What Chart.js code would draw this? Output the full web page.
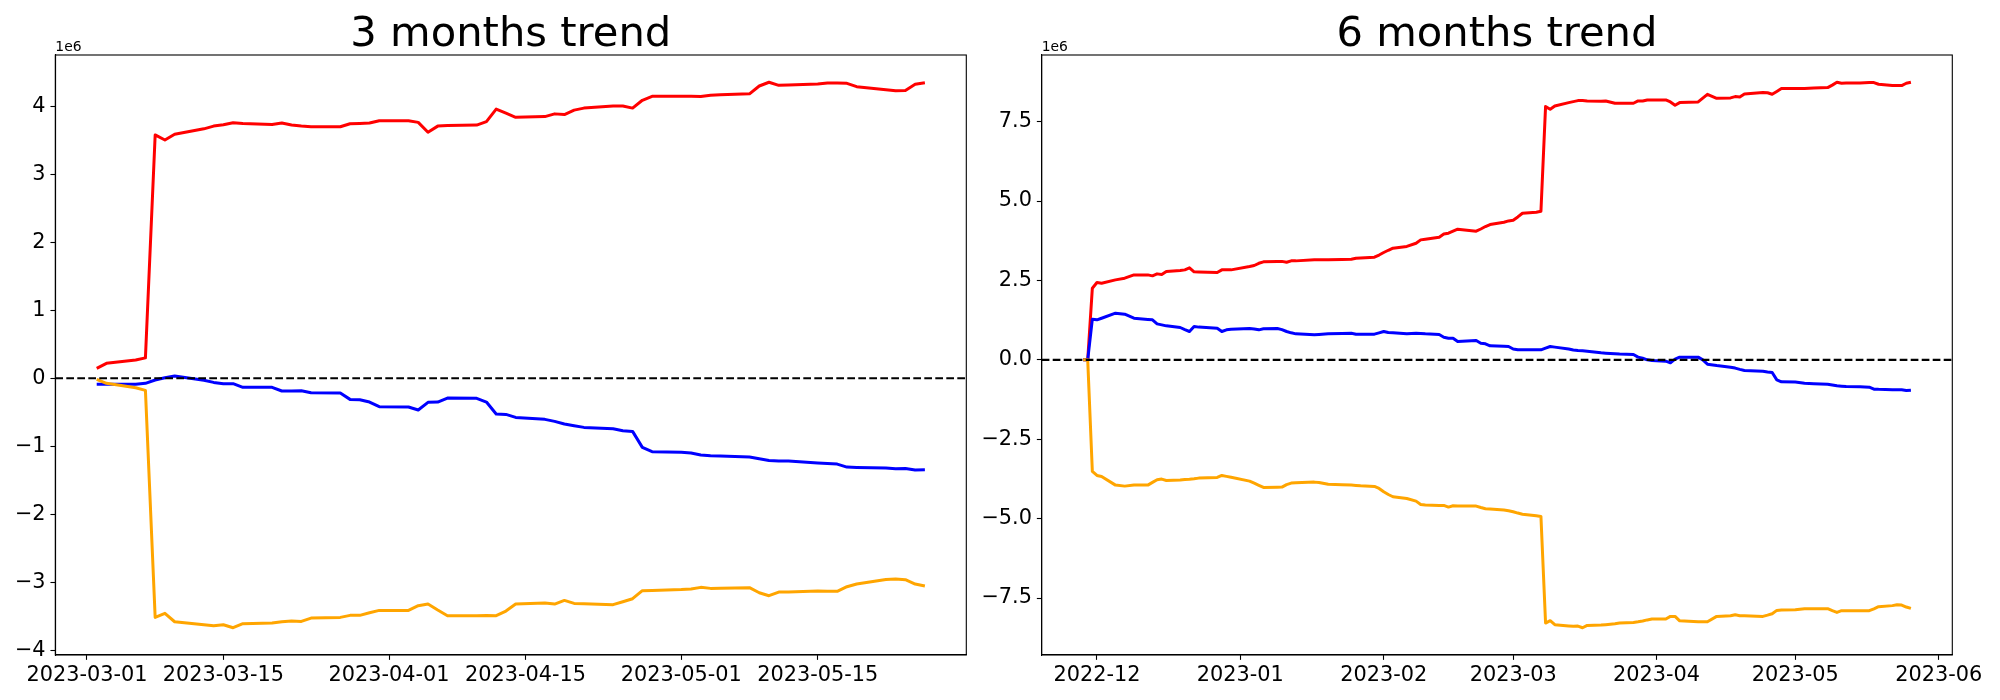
<!DOCTYPE html>
<html><head><meta charset="utf-8">
<script src="https://cdn.jsdelivr.net/npm/chart.js@4/dist/chart.umd.min.js"></script>
<style>
html,body{margin:0;padding:0;background:#fff;}
#wrap{position:relative;width:2000px;height:700px;overflow:hidden;background:#fff;}
.box{position:absolute;top:0;height:700px;}
</style></head><body>
<div id="wrap">
<div class="box" style="left:0;width:1000px"><canvas id="c1" width="1000" height="700"></canvas></div>
<div class="box" style="left:900px;width:1100px"><canvas id="c2" width="1100" height="700"></canvas></div>
</div>
<script>
// ---------- 3 months chart data (values in units of 1e6) ----------
const L_DATES = ['2023-03-02','2023-03-03','2023-03-06','2023-03-07','2023-03-08','2023-03-09','2023-03-10','2023-03-13','2023-03-14','2023-03-15','2023-03-16','2023-03-17','2023-03-20','2023-03-21','2023-03-22','2023-03-23','2023-03-24','2023-03-27','2023-03-28','2023-03-29','2023-03-30','2023-03-31','2023-04-03','2023-04-04','2023-04-05','2023-04-06','2023-04-07','2023-04-10','2023-04-11','2023-04-12','2023-04-13','2023-04-14','2023-04-17','2023-04-18','2023-04-19','2023-04-20','2023-04-21','2023-04-24','2023-04-25','2023-04-26','2023-04-27','2023-04-28','2023-05-01','2023-05-02','2023-05-03','2023-05-04','2023-05-05','2023-05-08','2023-05-09','2023-05-10','2023-05-11','2023-05-12','2023-05-15','2023-05-16','2023-05-17','2023-05-18','2023-05-19','2023-05-22','2023-05-23','2023-05-24','2023-05-25','2023-05-26'];
const L_RED = [0.146,0.219,0.268,0.30,3.58,3.505,3.59,3.67,3.71,3.73,3.76,3.75,3.735,3.755,3.725,3.71,3.70,3.70,3.745,3.75,3.755,3.79,3.79,3.765,3.62,3.71,3.72,3.725,3.775,3.96,3.90,3.84,3.85,3.89,3.88,3.945,3.975,4.005,4.005,3.975,4.09,4.148,4.148,4.148,4.145,4.165,4.17,4.185,4.30,4.355,4.31,4.315,4.33,4.345,4.345,4.34,4.29,4.245,4.23,4.235,4.325,4.348];
const L_BLUE = [-0.090,-0.088,-0.090,-0.075,-0.026,0.008,0.032,-0.030,-0.061,-0.080,-0.080,-0.134,-0.134,-0.188,-0.188,-0.183,-0.213,-0.218,-0.311,-0.316,-0.350,-0.419,-0.424,-0.468,-0.355,-0.350,-0.291,-0.296,-0.350,-0.527,-0.532,-0.576,-0.605,-0.635,-0.674,-0.698,-0.723,-0.743,-0.772,-0.782,-1.017,-1.081,-1.090,-1.101,-1.130,-1.140,-1.145,-1.160,-1.184,-1.209,-1.219,-1.219,-1.248,-1.255,-1.263,-1.307,-1.312,-1.322,-1.332,-1.327,-1.351,-1.346];
const L_ORANGE = [-0.017,-0.075,-0.139,-0.179,-3.519,-3.460,-3.583,-3.627,-3.641,-3.627,-3.671,-3.612,-3.602,-3.583,-3.573,-3.578,-3.529,-3.519,-3.489,-3.489,-3.450,-3.416,-3.416,-3.347,-3.323,-3.411,-3.494,-3.494,-3.490,-3.494,-3.426,-3.323,-3.308,-3.323,-3.269,-3.313,-3.318,-3.332,-3.288,-3.244,-3.126,-3.122,-3.110,-3.102,-3.077,-3.092,-3.090,-3.082,-3.156,-3.200,-3.146,-3.146,-3.131,-3.135,-3.136,-3.067,-3.028,-2.960,-2.955,-2.965,-3.028,-3.058];
const L_XTICKS = ['2023-03-01','2023-03-15','2023-04-01','2023-04-15','2023-05-01','2023-05-15'];
const L_XLABELS = ['2023-03-01','2023-03-15','2023-04-01','2023-04-15','2023-05-01','2023-05-15'];
const L_YTICKS = [-4,-3,-2,-1,0,1,2,3,4];
const L_YLABELS = ['\u22124','\u22123','\u22122','\u22121','0','1','2','3','4'];

// ---------- 6 months chart data (values in units of 1e6) ----------
const R_DATES = ['2022-11-28','2022-11-29','2022-11-30','2022-12-01','2022-12-02','2022-12-05','2022-12-07','2022-12-09','2022-12-12','2022-12-13','2022-12-14','2022-12-15','2022-12-16','2022-12-19','2022-12-20','2022-12-21','2022-12-22','2022-12-23','2022-12-27','2022-12-28','2022-12-29','2022-12-30',
'2023-01-03','2023-01-04','2023-01-05','2023-01-06','2023-01-09','2023-01-10','2023-01-11','2023-01-12','2023-01-13','2023-01-17','2023-01-18','2023-01-20','2023-01-23','2023-01-25','2023-01-26','2023-01-27','2023-01-30','2023-01-31',
'2023-02-01','2023-02-02','2023-02-03','2023-02-06','2023-02-08','2023-02-09','2023-02-10','2023-02-13','2023-02-14','2023-02-15','2023-02-16','2023-02-17','2023-02-21','2023-02-22','2023-02-23','2023-02-24','2023-02-27','2023-02-28',
'2023-03-01','2023-03-02','2023-03-03','2023-03-06','2023-03-07','2023-03-08','2023-03-09','2023-03-10','2023-03-13','2023-03-14','2023-03-15','2023-03-16','2023-03-17','2023-03-20','2023-03-21','2023-03-23','2023-03-24','2023-03-27','2023-03-28','2023-03-29','2023-03-30','2023-03-31',
'2023-04-03','2023-04-04','2023-04-05','2023-04-06','2023-04-10','2023-04-11','2023-04-12','2023-04-14','2023-04-17','2023-04-18','2023-04-19','2023-04-20','2023-04-24','2023-04-25','2023-04-26','2023-04-27','2023-04-28',
'2023-05-01','2023-05-03','2023-05-05','2023-05-08','2023-05-09','2023-05-10','2023-05-11','2023-05-12','2023-05-15','2023-05-17','2023-05-18','2023-05-19','2023-05-22','2023-05-23','2023-05-24','2023-05-25','2023-05-26'];
const R_RED = [0,0,2.256,2.434,2.413,2.518,2.571,2.675,2.675,2.644,2.707,2.686,2.78,2.81,2.833,2.896,2.77,2.765,2.749,2.833,2.833,2.833,
2.938,2.97,3.04,3.085,3.095,3.10,3.074,3.116,3.116,3.148,3.148,3.155,3.16,3.169,3.20,3.21,3.231,3.30,
3.38,3.45,3.515,3.57,3.67,3.777,3.80,3.861,3.96,3.987,4.05,4.113,4.05,4.12,4.197,4.26,4.333,4.375,
4.396,4.50,4.616,4.65,4.679,7.974,7.890,7.995,8.10,8.13,8.163,8.163,8.15,8.142,8.152,8.079,8.079,8.079,8.152,8.152,8.184,8.184,
8.184,8.12,8.016,8.10,8.121,8.24,8.362,8.236,8.247,8.289,8.278,8.373,8.415,8.41,8.362,8.45,8.541,
8.541,8.541,8.562,8.572,8.65,8.740,8.709,8.715,8.72,8.73,8.730,8.677,8.635,8.635,8.635,8.709,8.740];
const R_BLUE = [0,0,1.28,1.259,1.31,1.469,1.437,1.311,1.27,1.259,1.133,1.10,1.07,1.018,0.95,0.892,1.049,1.03,0.997,0.892,0.944,0.96,
0.986,0.97,0.944,0.976,0.986,0.95,0.892,0.85,0.818,0.787,0.80,0.82,0.83,0.839,0.808,0.808,0.808,0.85,
0.892,0.86,0.849,0.818,0.839,0.83,0.818,0.797,0.713,0.682,0.682,0.577,0.608,0.52,0.504,0.441,0.43,0.42,
0.34,0.315,0.315,0.315,0.315,0.37,0.42,0.40,0.34,0.31,0.294,0.285,0.27,0.22,0.21,0.19,0.18,0.168,0.084,0.05,0.0,-0.021,
-0.042,-0.094,0.021,0.084,0.084,0.0,-0.136,-0.18,-0.231,-0.26,-0.30,-0.336,-0.357,-0.38,-0.399,-0.63,-0.692,
-0.70,-0.734,-0.75,-0.766,-0.79,-0.818,-0.83,-0.84,-0.85,-0.86,-0.923,-0.93,-0.94,-0.94,-0.944,-0.965,-0.955];
const R_ORANGE = [0,0,-3.515,-3.641,-3.672,-3.945,-3.977,-3.945,-3.945,-3.86,-3.777,-3.756,-3.798,-3.787,-3.77,-3.76,-3.746,-3.725,-3.704,-3.641,-3.67,-3.70,
-3.82,-3.882,-3.95,-4.018,-4.01,-4.008,-3.93,-3.882,-3.87,-3.851,-3.861,-3.92,-3.93,-3.945,-3.955,-3.966,-3.987,-4.05,
-4.155,-4.24,-4.312,-4.365,-4.449,-4.554,-4.57,-4.585,-4.585,-4.638,-4.596,-4.60,-4.606,-4.65,-4.69,-4.70,-4.732,-4.753,
-4.784,-4.826,-4.86,-4.91,-4.931,-8.289,-8.215,-8.341,-8.38,-8.39,-8.383,-8.436,-8.362,-8.352,-8.34,-8.31,-8.29,-8.268,-8.25,-8.226,-8.19,-8.163,
-8.163,-8.079,-8.079,-8.22,-8.247,-8.247,-8.247,-8.079,-8.058,-8.026,-8.058,-8.06,-8.079,-8.04,-7.995,-7.89,-7.88,
-7.869,-7.837,-7.837,-7.837,-7.90,-7.953,-7.90,-7.90,-7.90,-7.90,-7.84,-7.775,-7.74,-7.712,-7.722,-7.785,-7.827];
const R_XTICKS = ['2022-12-01','2023-01-01','2023-02-01','2023-03-01','2023-04-01','2023-05-01','2023-06-01'];
const R_XLABELS = ['2022-12','2023-01','2023-02','2023-03','2023-04','2023-05','2023-06'];
const R_YTICKS = [-7.5,-5,-2.5,0,2.5,5,7.5];
const R_YLABELS = ['\u22127.5','\u22125.0','\u22122.5','0.0','2.5','5.0','7.5'];

const TITLES = ['3 months trend', '6 months trend'];
const OFFSET_LABEL = '1e6';
const COLORS = {red: '#ff0000', blue: '#0000ff', orange: '#ffa500', zero: '#000000'};

// ---------- helpers ----------
function dayNum(s) { const p = s.split('-').map(Number); return Date.UTC(p[0], p[1] - 1, p[2]) / 864e5; }
function pts(dates, vals) { return dates.map((d, i) => ({x: dayNum(d), y: vals[i]})); }
function margins(lo, hi) { const m = (hi - lo) * 0.05; return [lo - m, hi + m]; }

const FONT = '"DejaVu Sans", "Liberation Sans", sans-serif';

const framePlugin = {
  id: 'frame',
  afterDraw(chart, args, opts) {
    const ctx = chart.ctx, a = chart.chartArea;
    ctx.save();
    ctx.strokeStyle = '#000'; ctx.lineWidth = 1.1;
    ctx.strokeRect(a.left, a.top, a.right - a.left, a.bottom - a.top);
    ctx.fillStyle = '#000';
    ctx.textBaseline = 'alphabetic';
    ctx.font = '41.67px ' + FONT;
    ctx.textAlign = 'center';
    ctx.fillText(opts.title, (a.left + a.right) / 2, a.top - 9.3);
    ctx.font = '13.9px ' + FONT;
    ctx.textAlign = 'left';
    ctx.fillText(opts.offset, a.left, a.top - 4.3);
    ctx.restore();
  }
};

function makeChart(id, cfg) {
  const xs = cfg.dates.map(dayNum);
  const [xmin, xmax] = margins(Math.min(...xs), Math.max(...xs));
  const allY = cfg.red.concat(cfg.blue, cfg.orange);
  const [ymin, ymax] = margins(Math.min(...allY), Math.max(...allY));
  const xTickVals = cfg.xticks.map(dayNum);
  const line = (data, color) => ({data, borderColor: color, backgroundColor: color, borderWidth: 3,
    pointRadius: 0, fill: false, tension: 0, borderJoinStyle: 'round', borderCapStyle: 'butt'});
  const zero = Object.assign(line([{x: xmin, y: 0}, {x: xmax, y: 0}], COLORS.zero), {borderWidth: 2.1, borderDash: [7.7, 3.3]});
  return new Chart(document.getElementById(id), {
    type: 'line',
    data: {datasets: [
      zero,
      line(pts(cfg.dates, cfg.orange), COLORS.orange),
      line(pts(cfg.dates, cfg.blue), COLORS.blue),
      line(pts(cfg.dates, cfg.red), COLORS.red)
    ]},
    options: {
      responsive: false, animation: false, events: [],
      layout: {padding: {left: 0, top: cfg.padTop, right: cfg.padRight, bottom: 0}},
      plugins: {legend: {display: false}, tooltip: {enabled: false}, title: {display: false},
        frame: {title: cfg.title, offset: OFFSET_LABEL}},
      scales: {
        x: {
          type: 'linear', min: xmin, max: xmax,
          afterBuildTicks: s => { s.ticks = xTickVals.map(v => ({value: v})); },
          afterFit: s => { s.height = cfg.xAxisH; },
          ticks: {autoSkip: false, maxRotation: 0, minRotation: 0, color: '#000', padding: 3,
            font: {family: FONT, size: 20.83},
            callback: v => { const i = xTickVals.indexOf(v); return i >= 0 ? cfg.xlabels[i] : ''; }},
          grid: {display: true, drawOnChartArea: false, drawTicks: true, tickLength: 4.86, tickWidth: 1.1, tickColor: '#000'},
          border: {display: true, color: '#000', width: 1.1}
        },
        y: {
          type: 'linear', min: ymin, max: ymax,
          afterBuildTicks: s => { s.ticks = cfg.yticks.map(v => ({value: v})); },
          afterFit: s => { s.width = cfg.yAxisW; },
          ticks: {color: '#000', padding: 4.86, font: {family: FONT, size: 20.83},
            callback: v => { const i = cfg.yticks.indexOf(v); return i >= 0 ? cfg.ylabels[i] : ''; }},
          grid: {display: true, drawOnChartArea: false, drawTicks: true, tickLength: 4.86, tickWidth: 1.1, tickColor: '#000'},
          border: {display: true, color: '#000', width: 1.1}
        }
      }
    },
    plugins: [framePlugin]
  });
}

makeChart('c1', {dates: L_DATES, red: L_RED, blue: L_BLUE, orange: L_ORANGE,
  xticks: L_XTICKS, xlabels: L_XLABELS, yticks: L_YTICKS, ylabels: L_YLABELS, title: TITLES[0],
  padTop: 55, padRight: 33.7, yAxisW: 55.3, xAxisH: 45});
makeChart('c2', {dates: R_DATES, red: R_RED, blue: R_BLUE, orange: R_ORANGE,
  xticks: R_XTICKS, xlabels: R_XLABELS, yticks: R_YTICKS, ylabels: R_YLABELS, title: TITLES[1],
  padTop: 55, padRight: 47.7, yAxisW: 141.7, xAxisH: 45});
</script>
</body></html>
